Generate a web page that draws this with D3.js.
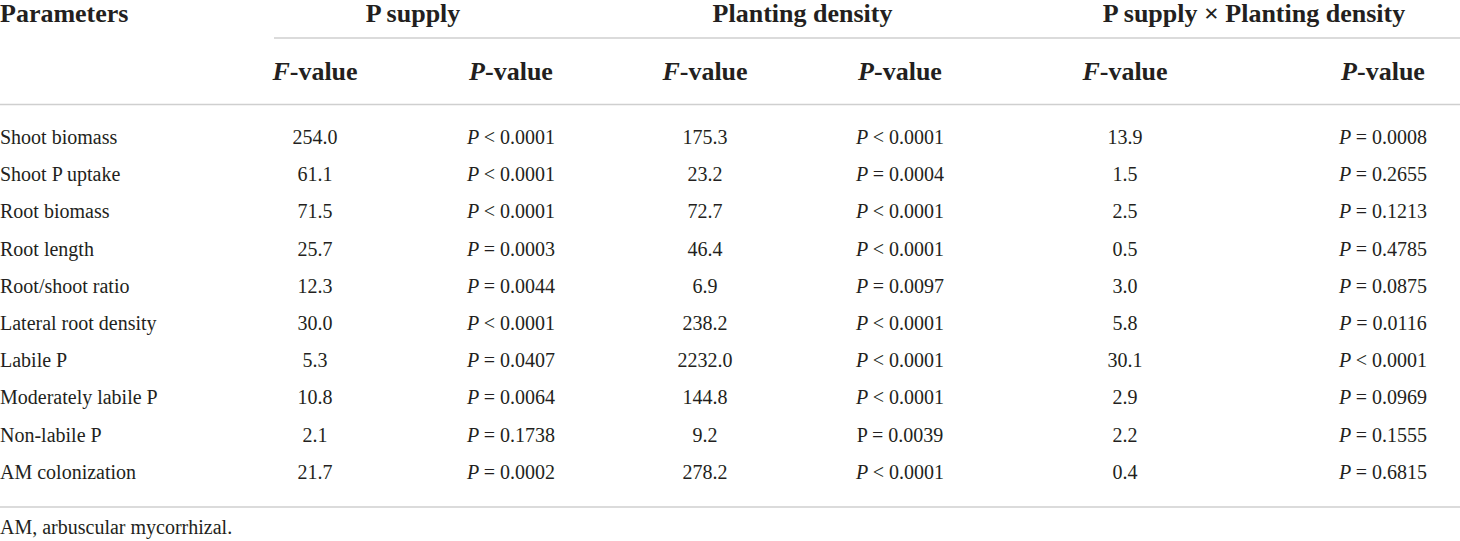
<!DOCTYPE html>
<html>
<head>
<meta charset="utf-8">
<script src="https://cdn.jsdelivr.net/npm/d3@7"></script>
<style>
  body { margin: 0; background: #fff; }
  svg text { font-family: "Liberation Serif", "Times New Roman", serif; fill: #231f20; }
  .head { font-weight: bold; font-size: 26px; }
  .cell { font-size: 20px; }
</style>
</head>
<body>
<div id="vis"></div>
<script>
// data
const PARAMETERS = ["Shoot biomass", "Shoot P uptake", "Root biomass", "Root length",
  "Root/shoot ratio", "Lateral root density", "Labile P", "Moderately labile P",
  "Non-labile P", "AM colonization"];
const GROUPS = ["P supply", "Planting density", "P supply \u00d7 Planting density"];

const SUPPLY_F = ["254.0", "61.1", "71.5", "25.7", "12.3", "30.0", "5.3", "10.8", "2.1", "21.7"];
const SUPPLY_P = ["< 0.0001", "< 0.0001", "< 0.0001", "= 0.0003", "= 0.0044", "< 0.0001",
  "= 0.0407", "= 0.0064", "= 0.1738", "= 0.0002"];
const DENSITY_F = ["175.3", "23.2", "72.7", "46.4", "6.9", "238.2", "2232.0", "144.8", "9.2", "278.2"];
const DENSITY_P = ["< 0.0001", "= 0.0004", "< 0.0001", "< 0.0001", "= 0.0097", "< 0.0001",
  "< 0.0001", "< 0.0001", "= 0.0039", "< 0.0001"];
const INTER_F = ["13.9", "1.5", "2.5", "0.5", "3.0", "5.8", "30.1", "2.9", "2.2", "0.4"];
const INTER_P = ["= 0.0008", "= 0.2655", "= 0.1213", "= 0.4785", "= 0.0875", "= 0.0116",
  "< 0.0001", "= 0.0969", "= 0.1555", "= 0.6815"];
// cells where the "P" is printed upright in the source
const UPRIGHT_P = [["Non-labile P", "dp"]];
const FOOTNOTE = "AM, arbuscular mycorrhizal.";

// layout
const WIDTH = 1460, HEIGHT = 541;
const COLS = ["sf", "sp", "df", "dp", "if", "ip"];
const COL_CENTERS = [315, 511, 705, 900, 1125, 1383];
const LINE_COLOR = "#cfcfcf";

const svg = d3.select("#vis").append("svg")
  .attr("width", WIDTH)
  .attr("height", HEIGHT);

const X = d3.scaleOrdinal().domain(COLS).range(COL_CENTERS);
const Y = d3.scaleBand().domain(PARAMETERS).range([118.4, 490.4]);

const columns = {
  sf: SUPPLY_F, sp: SUPPLY_P, df: DENSITY_F, dp: DENSITY_P, if: INTER_F, ip: INTER_P
};

// header row 1
svg.append("text").attr("class", "head")
  .attr("x", 0).attr("y", 13).attr("dy", "0.35em")
  .text("Parameters");

svg.selectAll(".group")
  .data(GROUPS)
  .enter()
  .append("text")
    .attr("class", "head group")
    .attr("text-anchor", "middle")
    .attr("x", (d, i) => (X(COLS[i * 2]) + X(COLS[i * 2 + 1])) / 2)
    .attr("y", 13).attr("dy", "0.35em")
    .text(d => d);

// rules
svg.append("line")
  .attr("x1", 274).attr("x2", WIDTH).attr("y1", 38).attr("y2", 38)
  .attr("stroke", LINE_COLOR).attr("stroke-width", 1.5);
svg.append("line")
  .attr("x1", 0).attr("x2", WIDTH).attr("y1", 104.5).attr("y2", 104.5)
  .attr("stroke", LINE_COLOR).attr("stroke-width", 1.5);
svg.append("line")
  .attr("x1", 0).attr("x2", WIDTH).attr("y1", 507).attr("y2", 507)
  .attr("stroke", LINE_COLOR).attr("stroke-width", 1.5);

// header row 2
const sub = svg.selectAll(".sub")
  .data(COLS)
  .enter()
  .append("text")
    .attr("class", "head sub")
    .attr("text-anchor", "middle")
    .attr("x", d => X(d))
    .attr("y", 71).attr("dy", "0.35em");
sub.append("tspan").attr("font-style", "italic").text(d => d[1] === "f" ? "F" : "P");
sub.append("tspan").text("-value");

// row labels
svg.selectAll(".label")
  .data(PARAMETERS)
  .enter()
  .append("text")
    .attr("class", "cell label")
    .attr("x", 0)
    .attr("y", d => Y(d) + Y.bandwidth() / 2).attr("dy", "0.35em")
    .text(d => d);

// body cells
const cells = [];
PARAMETERS.forEach((p, r) => {
  COLS.forEach(c => cells.push({row: p, col: c, value: columns[c][r]}));
});

const cell = svg.selectAll(".val")
  .data(cells)
  .enter()
  .append("text")
    .attr("class", "cell val")
    .attr("text-anchor", "middle")
    .attr("x", d => X(d.col))
    .attr("y", d => Y(d.row) + Y.bandwidth() / 2).attr("dy", "0.35em");

cell.filter(d => d.col[1] === "p")
  .append("tspan")
    .attr("font-style", d => UPRIGHT_P.some(u => u[0] === d.row && u[1] === d.col) ? "normal" : "italic")
    .text("P ");
cell.append("tspan").text(d => d.value);

// footnote
svg.append("text").attr("class", "cell")
  .attr("x", 0).attr("y", 527).attr("dy", "0.35em")
  .text(FOOTNOTE);
</script>
</body>
</html>
